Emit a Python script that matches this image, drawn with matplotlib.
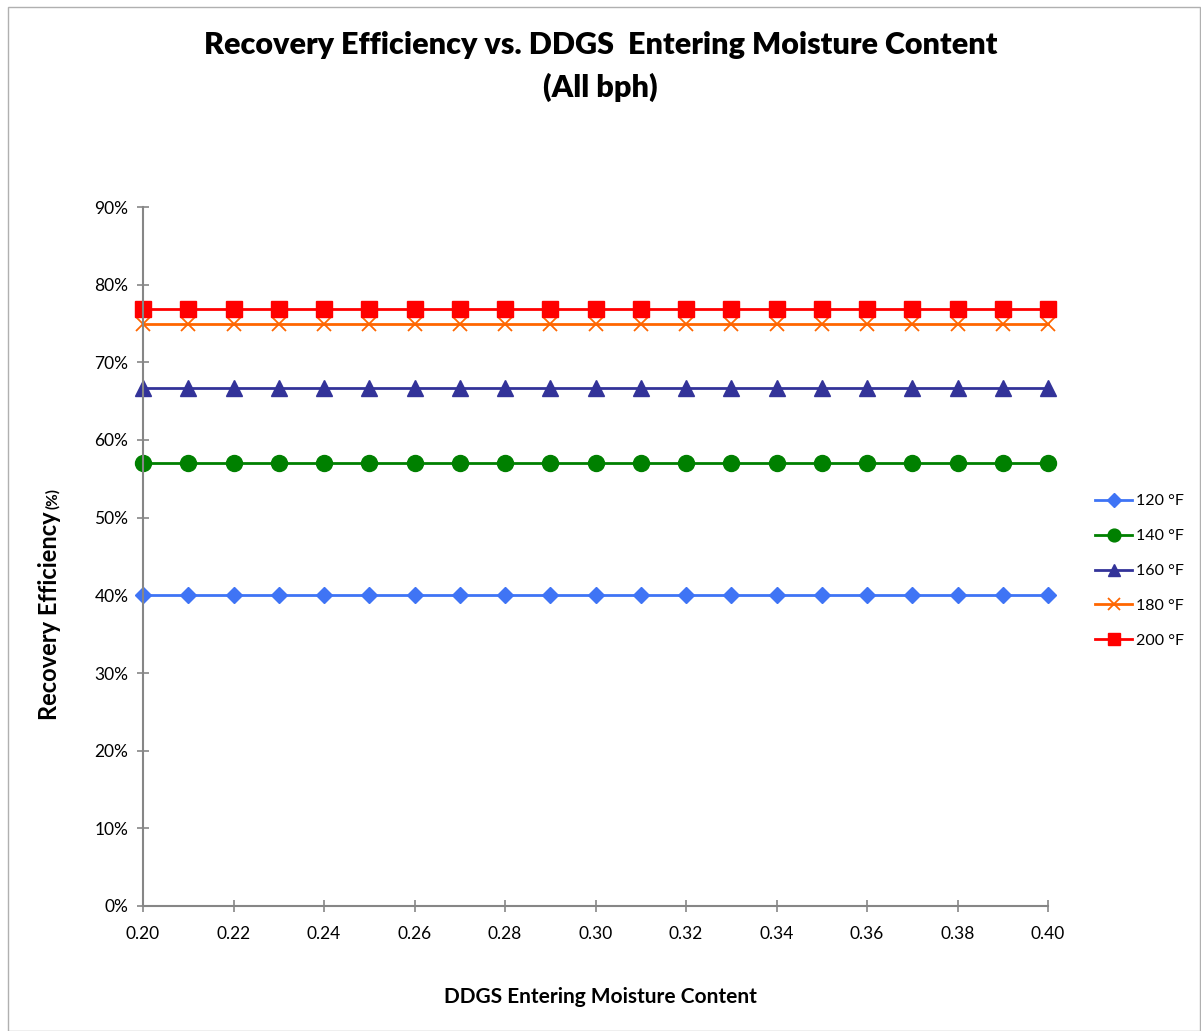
import matplotlib
matplotlib.use("Agg")
import matplotlib.pyplot as plt
from matplotlib.patches import Rectangle
from matplotlib.ticker import MultipleLocator, FuncFormatter

# Moisture content (x) and recovery efficiency per air temperature
moisture = [0.20, 0.21, 0.22, 0.23, 0.24, 0.25, 0.26, 0.27, 0.28, 0.29, 0.30,
            0.31, 0.32, 0.33, 0.34, 0.35, 0.36, 0.37, 0.38, 0.39, 0.40]
eff_120 = [0.400] * 21
eff_140 = [0.570] * 21
eff_160 = [0.667] * 21
eff_180 = [0.750] * 21
eff_200 = [0.769] * 21
series_labels = ["120 °F", "140 °F", "160 °F", "180 °F", "200 °F"]

plt.rcParams['font.family'] = ['Lato', 'DejaVu Sans']

fig = plt.figure(figsize=(12.01, 10.31), dpi=100)
W, H = 1201, 1031
fig.patches.append(Rectangle((8 / W, 0), 1 - 8 / W - 1 / W, 1 - 7 / H,
                             transform=fig.transFigure, fill=False,
                             edgecolor='#b0b0b0', linewidth=1.0))

ax = fig.add_axes([143 / W, 1 - 906 / H, (1048 - 143) / W, (906 - 207) / H])

styles = [
    dict(color='#3F74F5', marker='D', markersize=8.5),
    dict(color='#008000', marker='o', markersize=11.5),
    dict(color='#333399', marker='^', markersize=11),
    dict(color='#FF6600', marker='x', markersize=10.5, markeredgewidth=1.3),
    dict(color='#FF0000', marker='s', markersize=11),
]
for vals, lab, st in zip([eff_120, eff_140, eff_160, eff_180, eff_200],
                         series_labels, styles):
    ax.plot(moisture, vals, linewidth=2.0, label=lab, clip_on=False, **st)

ax.set_xlim(0.20, 0.40)
ax.set_ylim(0, 0.90)
ax.xaxis.set_major_locator(MultipleLocator(0.02))
ax.yaxis.set_major_locator(MultipleLocator(0.10))
ax.xaxis.set_major_formatter(FuncFormatter(lambda v, p: f"{v:.2f}"))
ax.yaxis.set_major_formatter(FuncFormatter(lambda v, p: f"{v * 100:.0f}%"))

for s in ['top', 'right']:
    ax.spines[s].set_visible(False)
for s in ['left', 'bottom']:
    ax.spines[s].set_color('#868686')
    ax.spines[s].set_linewidth(1.5)
ax.tick_params(axis='both', direction='inout', length=9, width=1.2,
               color='#868686', labelsize=12.5, labelcolor='black')
ax.tick_params(axis='x', pad=10)
ax.tick_params(axis='y', pad=6)

fig.text(0.5, 1 - 45 / H, "Recovery Efficiency vs. DDGS  Entering Moisture Content",
         ha='center', va='center', fontsize=22, fontweight='heavy')
fig.text(0.5, 1 - 87 / H, "(All bph)", ha='center', va='center',
         fontsize=22, fontweight='heavy')

fig.text(600 / W, 1 - 997 / H, "DDGS Entering Moisture Content",
         ha='center', va='center', fontsize=15, fontweight='bold')
fig.text(57 / W, 1 - 511 / H, "Recovery Efficiency", rotation=90,
         rotation_mode='anchor', ha='right', va='baseline',
         fontsize=17, fontweight='bold')
fig.text(57 / W, 1 - 509 / H, "(%)", rotation=90,
         rotation_mode='anchor', ha='left', va='baseline',
         fontsize=11, fontweight='bold')

ax.legend(loc='center left', bbox_to_anchor=(1084 / W, 1 - 571 / H),
          bbox_transform=fig.transFigure, frameon=False, fontsize=11.5,
          handlelength=2.3, labelspacing=1.3, handletextpad=0.25,
          borderpad=0.2, markerscale=0.8)

fig.savefig("out.png", dpi=100)
